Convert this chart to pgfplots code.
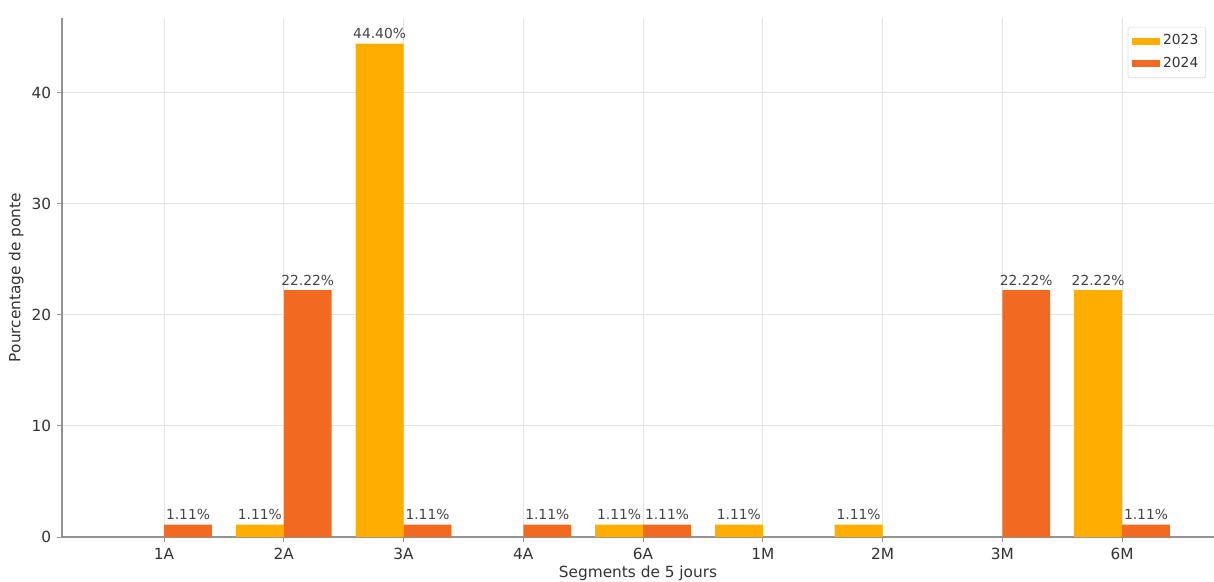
\documentclass[border=0pt]{standalone}
\usepackage{fontspec}
\setmainfont{DejaVu Sans}
\usepackage{pgfplots}
\pgfplotsset{compat=1.18}
\definecolor{c23}{HTML}{FFAE00}
\definecolor{c24}{HTML}{F26A21}
\definecolor{txt}{HTML}{333333}
\definecolor{lbl}{HTML}{444444}
\begin{document}
\begin{tikzpicture}
\begin{axis}[
  scale only axis, width=691.2pt, height=311.4pt,
  xmin=-0.852, xmax=8.768, ymin=0, ymax=46.7,
  axis lines*=left,
  axis line style={gray!85, line width=0.9pt},
  xtick={0,...,8}, xticklabels={1A,2A,3A,4A,6A,1M,2M,3M,6M},
  ytick={0,10,20,30,40},
  grid=major, grid style={gray!22, line width=0.5pt},
  tick align=outside, major tick length=3pt,
  tick style={gray!85, line width=0.6pt},
  /pgf/number format/assume math mode=true,
  ticklabel style={font=\fontsize{9.2}{11}\selectfont, text=txt},
  xlabel={Segments de 5 jours}, ylabel={Pourcentage de ponte},
  label style={font=\fontsize{9.2}{11}\selectfont, text=txt},
  xlabel style={yshift=3pt},
  ylabel style={yshift=-2pt},
  legend style={at={(0.925,0.983)}, anchor=north west,
    font=\fontsize{8.3}{10}\selectfont, text=txt,
    draw=gray!30, fill=white, rounded corners=1pt,
    row sep=2pt, inner sep=2.5pt},
  legend cell align=left,
  legend image code/.code={\fill[#1, sharp corners] (0pt,-2.1pt) rectangle (16.6pt,2.1pt);},
  nodes near coords={\pgfmathprintnumber[fixed,fixed zerofill,precision=2]{\pgfplotspointmeta}\%},
  every node near coord/.append style={font=\fontsize{8.3}{10}\selectfont, text=lbl, inner sep=2.6pt},
]
\addplot[ybar, bar width=0.4, bar shift=-0.2, fill=c23, draw=none,
  every node near coord/.append style={xshift=-14.37pt}]
  coordinates {(1,1.11) (2,44.40) (4,1.11) (5,1.11) (6,1.11) (8,22.22)};
\addlegendentry{2023}
\addplot[ybar, bar width=0.4, bar shift=0.2, fill=c24, draw=none,
  every node near coord/.append style={xshift=14.37pt}]
  coordinates {(0,1.11) (1,22.22) (2,1.11) (3,1.11) (4,1.11) (7,22.22) (8,1.11)};
\addlegendentry{2024}
\coordinate (bl) at (rel axis cs:0,0);
\coordinate (tr) at (rel axis cs:1,1);
\end{axis}
\pgfresetboundingbox
\path ([xshift=-37.2pt,yshift=-26.4pt]bl) rectangle ([yshift=10.8pt]tr);
\end{tikzpicture}
\end{document}
